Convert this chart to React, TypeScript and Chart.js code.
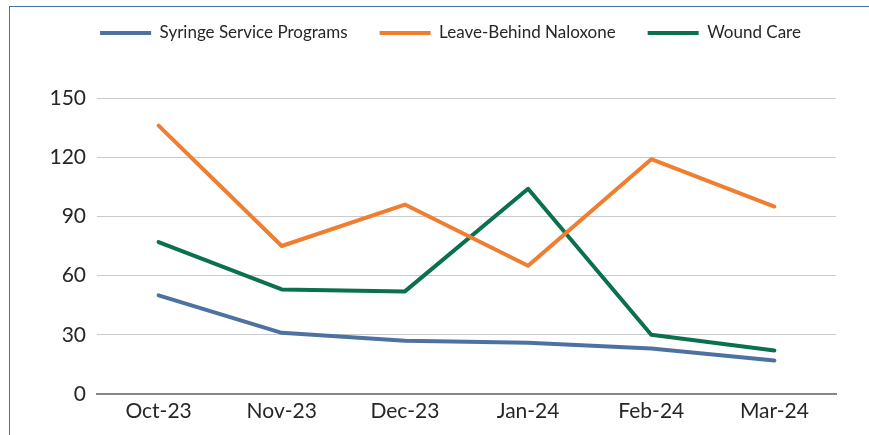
import React, { useEffect, useRef } from "react";
import { Chart, registerables } from "chart.js";

Chart.register(...registerables);

const categories = ["Oct-23", "Nov-23", "Dec-23", "Jan-24", "Feb-24", "Mar-24"];
const syringeService = [50, 31, 27, 26, 23, 17];
const leaveBehindNaloxone = [136, 75, 96, 65, 119, 95];
const woundCare = [77, 53, 52, 104, 30, 22];
const seriesNames = ["Syringe Service Programs", "Leave-Behind Naloxone", "Wound Care"];
const seriesColors = ["#4D72A1", "#EF7E30", "#0A7050"];
const yTicks = [0, 30, 60, 90, 120, 150];

const LEGEND_TOP = -7.5;
const PLOT_TOP = 98;
const PAD_LEFT = 40;
const PLOT_LEFT = 97;
const LEGEND_CENTER = 450.5;

const legendSpacer = {
  id: "legendSpacer",
  beforeInit(chart: any) {
    const legend = chart.legend;
    if (!legend) return;
    const orig = legend.fit;
    legend.fit = function () {
      orig.call(this);
      this.height = PLOT_TOP - LEGEND_TOP;
    };
  },
  afterLayout(chart: any) {
    const legend = chart.legend;
    if (!legend) return;
    const shift = LEGEND_CENTER - (legend.left + legend.right) / 2;
    legend.left += shift;
    legend.right += shift;
  },
};

export default function App() {
  const ref = useRef<HTMLCanvasElement | null>(null);
  useEffect(() => {
    if (!ref.current) return;
    const values = [syringeService, leaveBehindNaloxone, woundCare];
    const chart = new Chart(ref.current, {
      type: "line",
      data: {
        labels: categories,
        datasets: values.map((v, i) => ({
          label: seriesNames[i],
          data: v,
          borderColor: seriesColors[i],
          backgroundColor: seriesColors[i],
          borderWidth: 4,
          pointRadius: 0,
          tension: 0,
          borderCapStyle: "round" as const,
          borderJoinStyle: "round" as const,
        })),
      },
      options: {
        responsive: false,
        animation: false,
        layout: { padding: { left: PAD_LEFT, right: 33, top: LEGEND_TOP, bottom: 0 } },
        plugins: {
          tooltip: { enabled: false },
          legend: {
            position: "top",
            labels: {
              boxWidth: 51,
              boxHeight: 4,
              padding: 32,
              color: "#262626",
              font: { family: "Lato", size: 17 },
              generateLabels: (c: any) =>
                c.data.datasets.map((d: any, i: number) => ({
                  text: d.label,
                  fillStyle: d.borderColor,
                  strokeStyle: d.borderColor,
                  lineWidth: 0,
                  hidden: false,
                  datasetIndex: i,
                  fontColor: "#262626",
                })),
            },
          },
        },
        scales: {
          x: {
            offset: true,
            grid: { display: false, drawTicks: false },
            border: { display: true, color: "#878787", width: 2 },
            ticks: { color: "#262626", font: { family: "Lato", size: 21 }, padding: 5, maxRotation: 0 },
            afterFit: (s: any) => {
              s.height = 41;
            },
          },
          y: {
            min: 0,
            max: 150,
            afterBuildTicks: (s: any) => {
              s.ticks = yTicks.map((v) => ({ value: v }));
            },
            grid: { color: "#CBCBCB", lineWidth: 1, drawTicks: false },
            border: { display: false },
            ticks: { color: "#262626", font: { family: "Lato", size: 21 }, padding: 11 },
            afterFit: (s: any) => {
              s.width = PLOT_LEFT - PAD_LEFT;
            },
          },
        },
      },
      plugins: [legendSpacer],
    });
    return () => chart.destroy();
  }, []);

  return (
    <div style={{ position: "fixed", left: 0, top: 0, width: 869, height: 435, overflow: "hidden", background: "#fff" }}>
      <div
        style={{
          position: "absolute",
          left: 9,
          top: 6,
          width: 1000,
          height: 1000,
          borderTop: "1.5px solid #4A6DAE",
          borderLeft: "1.5px solid #4A6DAE",
        }}
      />
      <canvas ref={ref} width={869} height={435} style={{ position: "absolute", left: 0, top: 0 }} />
    </div>
  );
}
